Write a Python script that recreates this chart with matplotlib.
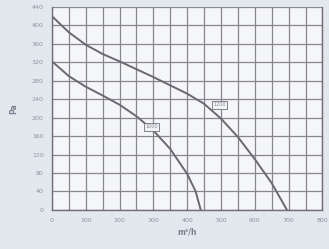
import matplotlib
matplotlib.use("Agg")
from matplotlib import pyplot as plt
import numpy as np

# fan curves
flow_hi = [0, 50, 100, 150, 200, 250, 300, 350, 400, 450, 500, 550, 600, 650, 695]
pa_hi = [420, 385, 358, 338, 322, 305, 288, 270, 252, 230, 198, 158, 110, 58, 0]
flow_lo = [0, 50, 100, 150, 200, 250, 300, 350, 400, 425, 440]
pa_lo = [322, 290, 267, 248, 228, 203, 172, 132, 78, 40, 0]
labels = ["1200", "1000"]
label_pos = [(495, 228), (295, 180)]

x_ticks = [0, 100, 200, 300, 400, 500, 600, 700, 800]
y_ticks = [0, 40, 80, 120, 160, 200, 240, 280, 320, 360, 400, 440]

fig = plt.figure(figsize=(3.29, 2.49), dpi=100)
fig.patch.set_facecolor("#e3e7ee")
ax = fig.add_axes([0.158, 0.157, 0.822, 0.815])
ax.set_facecolor("#f5f6f9")

ax.plot(flow_hi, pa_hi, color="#6a6870", lw=1.4)
ax.plot(flow_lo, pa_lo, color="#6a6870", lw=1.4)

for txt, (x, y) in zip(labels, label_pos):
    ax.text(x, y, txt, fontsize=3.5, color="#8a8a95", ha="center", va="center",
            bbox=dict(boxstyle="square,pad=0.3", fc="#f2f3f6", ec="#707078", lw=0.6))

ax.set_xlim(0, 800)
ax.set_ylim(0, 440)
ax.set_xticks(x_ticks)
ax.set_yticks(y_ticks)
ax.set_xticks(np.arange(50, 800, 100), minor=True)
ax.tick_params(axis="both", which="both", length=0, labelsize=4.5, colors="#8d93a0", pad=6)
ax.grid(True, which="both", color="#86868f", lw=0.9)
ax.set_axisbelow(True)
for s in ax.spines.values():
    s.set_color("#6f6f78")
    s.set_linewidth(1.0)
ax.spines["top"].set_visible(False)

ax.set_xlabel("m³/h", fontsize=5.5, color="#7b8090", fontweight="bold", labelpad=3)
ax.set_ylabel("Pa", fontsize=5.5, color="#7b8090", fontweight="bold", labelpad=10)

fig.savefig("out.png", dpi=100, facecolor=fig.get_facecolor())
